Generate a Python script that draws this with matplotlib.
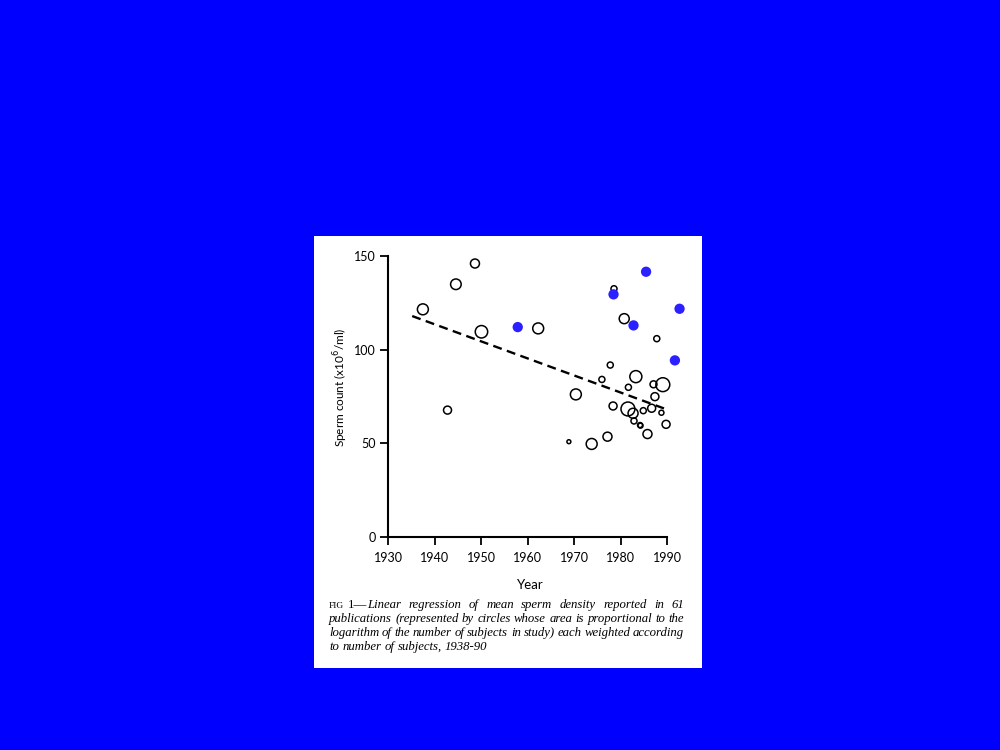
import numpy as np
import matplotlib
matplotlib.use("Agg")
import matplotlib.pyplot as plt

# data
open_years = [1937.5, 1944.6, 1948.7, 1950.1, 1942.8, 1962.3, 1978.6, 1980.8, 1987.8,
              1977.8, 1983.3, 1976.0, 1987.1, 1989.1, 1981.7, 1970.4, 1987.4, 1978.4,
              1981.6, 1986.7, 1984.9, 1988.8, 1982.7, 1982.9, 1984.2, 1984.3, 1989.8,
              1985.8, 1977.2, 1973.8, 1968.9]
open_counts = [121.5, 134.9, 146.0, 109.5, 67.6, 111.3, 132.5, 116.5, 105.8,
               91.7, 85.5, 84.0, 81.4, 81.2, 79.8, 76.0, 74.8, 69.8,
               68.2, 68.6, 67.3, 66.2, 65.9, 61.8, 59.6, 59.3, 60.0,
               54.8, 53.4, 49.5, 50.7]
# circle area ~ log(number of subjects)
open_area = [62, 58, 42, 80, 33, 62, 19, 52, 19,
             19, 75, 19, 25, 100, 19, 62, 33, 33,
             100, 33, 19, 13, 52, 19, 13, 13, 33,
             42, 42, 62, 8]

blue_years = [1957.9, 1978.5, 1982.8, 1985.5, 1991.7, 1992.7]
blue_counts = [112.0, 129.5, 112.9, 141.6, 94.2, 121.8]

reg_years = [1935.2, 1989.9]
reg_counts = [117.9, 68.0]

xticks = [1930, 1940, 1950, 1960, 1970, 1980, 1990]
yticks = [0, 50, 100, 150]

caption = ["Linear regression of mean sperm density reported in 61",
           "publications (represented by circles whose area is proportional to the",
           "logarithm of the number of subjects in study) each weighted according",
           "to number of subjects, 1938-90"]

W, H = 1000, 750
fig = plt.figure(figsize=(10, 7.5), dpi=100)
fig.patch.set_facecolor("#0000ff")

# white panel
bg = fig.add_axes([314 / W, 1 - 668 / H, 388 / W, 432 / H])
bg.set_facecolor("white")
bg.set_xticks([])
bg.set_yticks([])
for s in bg.spines.values():
    s.set_visible(False)

ax = fig.add_axes([388 / W, 1 - 536.5 / H, 297.6 / W, 284.2 / H])
ax.set_facecolor("none")
ax.set_xlim(1930, 1994)
ax.set_ylim(0, 152)

ax.plot(reg_years, reg_counts, color="black", lw=1.7, linestyle=(0, (3.8, 2.3)), zorder=2)
ax.scatter(open_years, open_counts, s=open_area, facecolors="none", edgecolors="black",
           linewidths=1.1, zorder=3, clip_on=False)
ax.scatter(blue_years, blue_counts, s=55, color="#2b20ff", edgecolors="none",
           zorder=4, clip_on=False)

for side in ["top", "right"]:
    ax.spines[side].set_visible(False)
ax.spines["left"].set_bounds(0, 150)
ax.spines["bottom"].set_bounds(1930, 1990)
ax.spines["left"].set_linewidth(1.5)
ax.spines["bottom"].set_linewidth(1.5)

ax.set_xticks(xticks)
ax.set_yticks(yticks)
ax.tick_params(direction="out", length=6, width=1.3, labelsize=9)
ax.tick_params(axis="x", pad=5)
ax.tick_params(axis="y", pad=3)
for lab in ax.get_xticklabels() + ax.get_yticklabels():
    lab.set_family("Lato")

fig.text(530 / W, 1 - 585 / H, "Year", family="Lato", fontsize=9.5, ha="center", va="center")
fig.text(341 / W, 1 - 387 / H, "Sperm count (x10$^6$/ml)", family="Lato", fontsize=8.5,
         rotation=90, ha="center", va="center")

# caption, justified like the printed figure legend
renderer = fig.canvas.get_renderer()
cap_left, cap_right = 329, 684
cap_size = 9.2


def put_line(x_start, y, text, justify):
    words = text.split(" ")
    arts = [fig.text(0, y, w, family="Liberation Serif", style="italic", fontsize=cap_size,
                     va="baseline", ha="left") for w in words]
    widths = [a.get_window_extent(renderer).width for a in arts]
    sp = fig.text(0, y, "a b", family="Liberation Serif", style="italic", fontsize=cap_size)
    sp2 = fig.text(0, y, "ab", family="Liberation Serif", style="italic", fontsize=cap_size)
    space = sp.get_window_extent(renderer).width - sp2.get_window_extent(renderer).width
    sp.remove()
    sp2.remove()
    if justify and len(words) > 1:
        space = (cap_right - x_start - sum(widths)) / (len(words) - 1)
    x = x_start
    for a, w in zip(arts, widths):
        a.set_x(x / W)
        x += w + space


y0 = 1 - 608 / H
t0 = fig.text(cap_left / W, y0, "FIG", family="Liberation Serif", fontsize=6.8,
              va="baseline", ha="left")
ext = t0.get_window_extent(renderer)
t1 = fig.text(ext.x1 / W + 0.004, y0, "1\u2014", family="Liberation Serif",
              fontsize=cap_size, va="baseline", ha="left")
ext1 = t1.get_window_extent(renderer)
put_line(ext1.x1, y0, caption[0], True)
for i, line in enumerate(caption[1:]):
    put_line(cap_left, 1 - (608 + 14 * (i + 1)) / H, line, i < 2)

fig.savefig("out.png", dpi=100, facecolor=fig.get_facecolor())
